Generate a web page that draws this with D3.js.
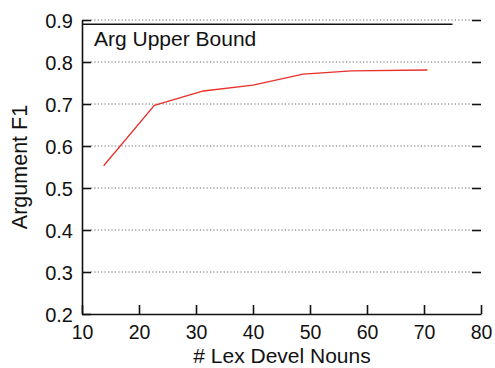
<!DOCTYPE html>
<html>
<head>
<meta charset="utf-8">
<script src="https://cdn.jsdelivr.net/npm/d3@7"></script>
<style>
  html, body { margin: 0; padding: 0; background: #fff; }
  svg text { font-family: "Liberation Sans", Arial, Helvetica, sans-serif; fill: #111; }
</style>
</head>
<body>
<svg id="chart" width="495" height="368"></svg>
<script>
// Argument F1 as the number of lexicon development nouns grows
const nouns = [13.8, 22.7, 31.3, 40, 48.8, 57.3, 70.6];
const argF1 = [0.553, 0.697, 0.731, 0.745, 0.771, 0.779, 0.781];

// Upper bound reference line
const boundLabel = "Arg Upper Bound";
const boundValue = 0.89;
const boundRange = [10, 75];

const xTicks = [10, 20, 30, 40, 50, 60, 70, 80];
const yTicks = [0.2, 0.3, 0.4, 0.5, 0.6, 0.7, 0.8, 0.9];

const margin = { left: 82, right: 14, top: 20, bottom: 54 };
const W = 495, H = 368;
const FONT = "'Liberation Sans', Arial, Helvetica, sans-serif";

const svg = d3.select("#chart");
const x = d3.scaleLinear().domain([10, 80]).range([margin.left, W - margin.right]);
const y = d3.scaleLinear().domain([0.2, 0.9]).range([H - margin.bottom, margin.top]);

const tickLen = 9;

// dotted horizontal grid
svg.append("g")
  .selectAll("line")
  .data(yTicks.filter(v => v > 0.2))
  .join("line")
  .attr("x1", x(10) + tickLen).attr("x2", x(80) - tickLen)
  .attr("y1", d => y(d)).attr("y2", d => y(d))
  .attr("stroke", "#666").attr("stroke-width", 1)
  .attr("stroke-dasharray", "1.2,2.2");

// left axis: inward ticks
const yAxisL = d3.axisLeft(y).tickValues(yTicks).tickFormat(d3.format(".1f"))
  .tickSizeInner(-tickLen).tickSizeOuter(0).tickPadding(9);
const gL = svg.append("g").attr("transform", `translate(${x(10)},0)`).call(yAxisL);
gL.select(".domain").attr("stroke", "#111").attr("stroke-width", 1.6);
gL.selectAll(".tick line").attr("stroke", "#111").attr("stroke-width", 1.6);
gL.selectAll(".tick text").attr("font-size", 20).attr("dy", "0.35em")
  .style("font-family", FONT).attr("fill", "#111");

// right side: inward tick marks only
const yAxisR = d3.axisRight(y).tickValues(yTicks.filter(v => v > 0.2))
  .tickSizeInner(-tickLen).tickSizeOuter(0).tickFormat("");
const gR = svg.append("g").attr("transform", `translate(${x(80)},0)`).call(yAxisR);
gR.select(".domain").remove();
gR.selectAll(".tick line").attr("stroke", "#111").attr("stroke-width", 1.6);

// bottom axis: upward ticks
const xAxis = d3.axisBottom(x).tickValues(xTicks).tickFormat(d3.format("d"))
  .tickSizeInner(-tickLen).tickSizeOuter(0).tickPadding(11);
const gB = svg.append("g").attr("transform", `translate(0,${y(0.2)})`).call(xAxis);
gB.select(".domain").attr("stroke", "#111").attr("stroke-width", 1.6);
gB.selectAll(".tick line").attr("stroke", "#111").attr("stroke-width", 1.6);
gB.selectAll(".tick text").attr("font-size", 19.5)
  .style("font-family", FONT).attr("fill", "#111");

// upper bound line and label
svg.append("line")
  .attr("x1", x(boundRange[0])).attr("x2", x(boundRange[1]))
  .attr("y1", y(boundValue)).attr("y2", y(boundValue))
  .attr("stroke", "#111").attr("stroke-width", 1.6);
svg.append("text")
  .attr("x", x(10) + 12).attr("y", 46)
  .attr("font-size", 21)
  .text(boundLabel);

// F1 curve
const line = d3.line().x((d, i) => x(nouns[i])).y(d => y(d));
svg.append("path")
  .datum(argF1)
  .attr("d", line)
  .attr("fill", "none")
  .attr("stroke", "#e8302a")
  .attr("stroke-width", 1.3);

// axis titles
svg.append("text")
  .attr("x", 282).attr("y", 363)
  .attr("text-anchor", "middle").attr("font-size", 21)
  .text("# Lex Devel Nouns");
svg.append("text")
  .attr("transform", `translate(26.5,${(y(0.2) + y(0.9)) / 2}) rotate(-90)`)
  .attr("text-anchor", "middle").attr("font-size", 21.5)
  .text("Argument F1");
</script>
</body>
</html>
